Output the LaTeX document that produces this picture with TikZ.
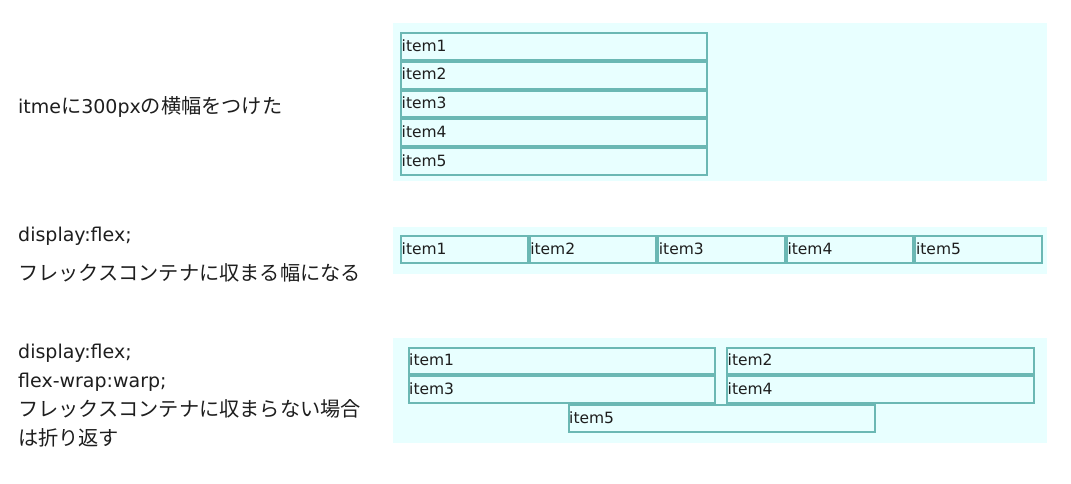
\documentclass[tikz,border=0pt]{standalone}
\usepackage{fontspec}
\setmainfont{DejaVu Sans}
\newfontfamily\cjk{Noto Sans CJK JP}
\definecolor{panelbg}{HTML}{E8FFFF}
\definecolor{itemline}{HTML}{6BB8B4}
\definecolor{inktext}{HTML}{1E1E1E}
\tikzset{
  panel/.style={fill=panelbg, draw=none},
  itembox/.style={rectangle, draw=itemline, fill=panelbg, line width=2pt, inner sep=0pt},
  itemlabel/.style={anchor=base west, inner sep=0pt, text=inktext, font=\fontsize{15.5}{18}\selectfont},
  sidelabel/.style={anchor=base west, inner sep=0pt, text=inktext, font=\fontsize{19}{24}\selectfont},
}
\newcommand\jp[1]{{\cjk\fontsize{20.2}{24}\selectfont #1}}
% \ibox{name}{x}{y}{w}{h}{text}
\newcommand\ibox[6]{%
  \node[itembox, minimum width=#4-2, minimum height=#5-2] (#1) at ({#2+#4/2},{#3+#5/2}) {};
  \node[itemlabel] (#1t) at ({#2+1.5},{#3+19.2}) {#6};
}
\begin{document}
\begin{tikzpicture}[x=1pt,y=-1pt]
\useasboundingbox (0,0) rectangle (1071,484);
\fill[white] (0,0) rectangle (1071,484);
% panels
\path[panel] (392.5,23) rectangle (1047,181);
\path[panel] (392.5,226.5) rectangle (1047,273.5);
\path[panel] (392.5,338) rectangle (1047,442.5);
% top panel: width 300px items
\ibox{a1}{400}{32}{308}{28.8}{item1}
\ibox{a2}{400}{60.8}{308}{28.8}{item2}
\ibox{a3}{400}{89.6}{308}{28.8}{item3}
\ibox{a4}{400}{118.4}{308}{28.8}{item4}
\ibox{a5}{400}{147.2}{308}{28.8}{item5}
% middle panel: display flex
\ibox{b1}{400}{235}{128.6}{28.8}{item1}
\ibox{b2}{528.6}{235}{128.6}{28.8}{item2}
\ibox{b3}{657.2}{235}{128.6}{28.8}{item3}
\ibox{b4}{785.8}{235}{128.6}{28.8}{item4}
\ibox{b5}{914.4}{235}{128.6}{28.8}{item5}
% bottom panel: flex wrap
\ibox{c1}{407.5}{346.5}{308.5}{28.8}{item1}
\ibox{c2}{726}{346.5}{308.5}{28.8}{item2}
\ibox{c3}{407.5}{375.3}{308.5}{28.8}{item3}
\ibox{c4}{726}{375.3}{308.5}{28.8}{item4}
\ibox{c5}{567.5}{404.1}{308.5}{28.8}{item5}
% left labels
\node[sidelabel] (l1) at (18,113.5) {itme\jp{に}300px\jp{の横幅をつけた}};
\node[sidelabel] (l2) at (18,241) {display:flex;};
\node[sidelabel] (l3) at (18,280.5) {\jp{フレックスコンテナに収まる幅になる}};
\node[sidelabel] (l4) at (18,358) {display:flex;};
\node[sidelabel] (l5) at (18,387) {flex-wrap:warp;};
\node[sidelabel] (l6) at (18,416.5) {\jp{フレックスコンテナに収まらない場合}};
\node[sidelabel] (l7) at (18,445.5) {\jp{は折り返す}};
\end{tikzpicture}
\end{document}
